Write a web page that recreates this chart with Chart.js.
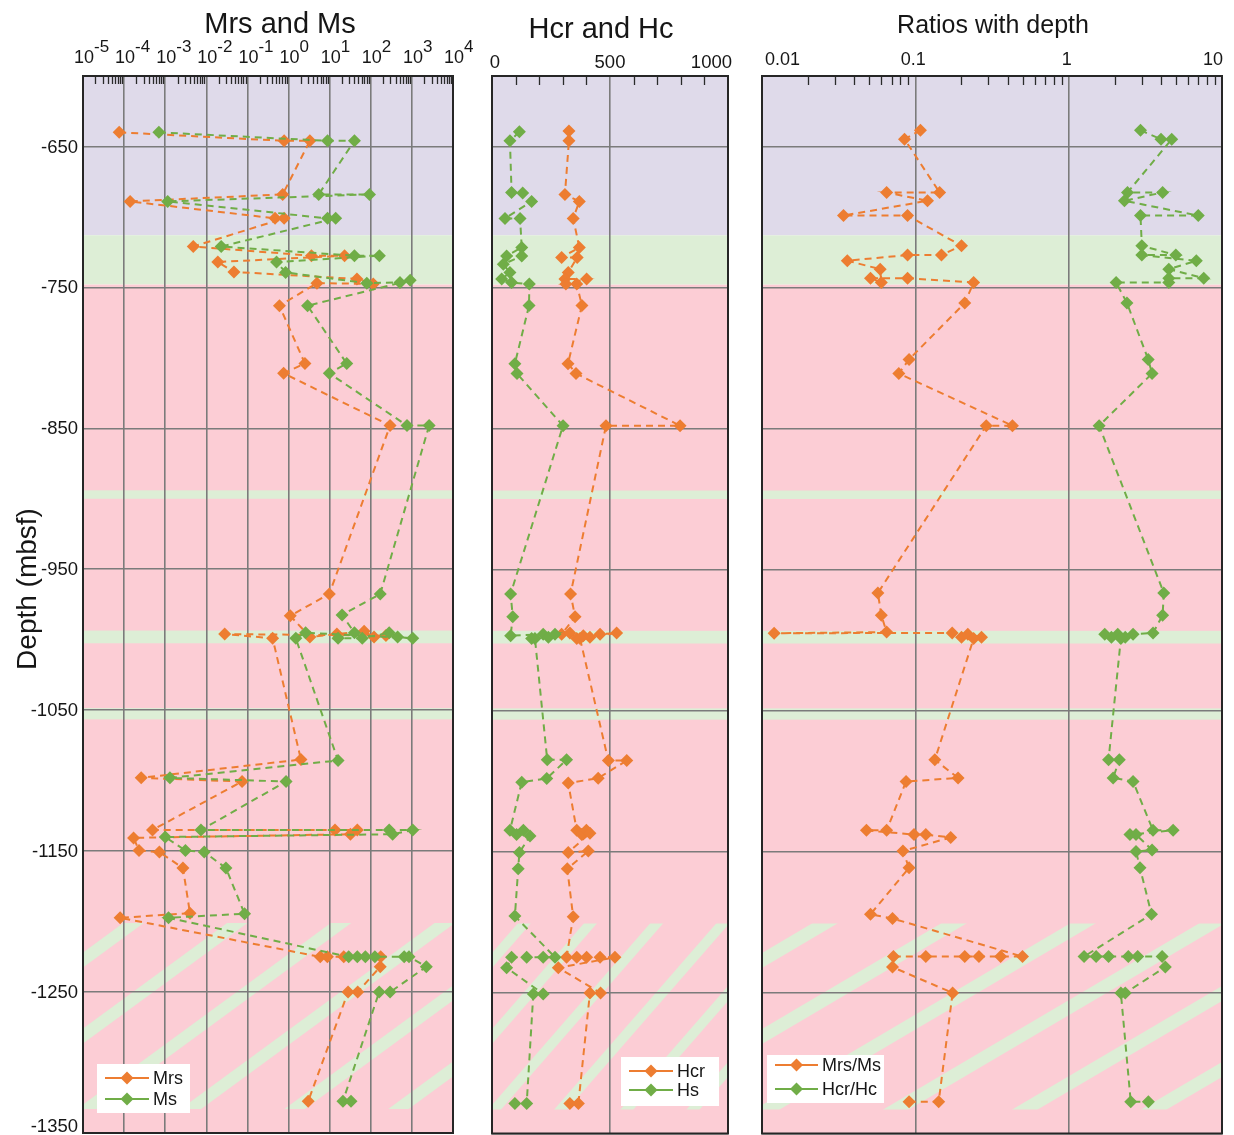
<!DOCTYPE html>
<html>
<head>
<meta charset="utf-8">
<title>Magnetic properties with depth</title>
<script src="https://cdn.jsdelivr.net/npm/chart.js@4.4.1/dist/chart.umd.min.js"></script>
<style>
  html, body { margin: 0; padding: 0; background: #ffffff; }
  #wrap { position: relative; width: 1234px; height: 1135px; overflow: hidden; }
  #wrap canvas { position: absolute; top: 0; }
</style>
</head>
<body>
<div id="wrap">
  <canvas id="pMag" width="480" height="1150" style="left:0px"></canvas>
  <canvas id="pCoer" width="270" height="1140" style="left:470px"></canvas>
  <canvas id="pRatio" width="494" height="1140" style="left:740px"></canvas>
</div>
<script>
// ---------- depth axis ----------
const depthTicks = [-650, -750, -850, -950, -1050, -1150, -1250, -1350];

// ---------- panel 1: Mrs and Ms ----------
const magExponents = [-5, -4, -3, -2, -1, 0, 1, 2, 3, 4];
const mrsDepth = [-640, -646, -646, -684, -689, -701, -701, -721, -727.5, -727.5, -732, -739, -744, -747.5, -747,
  -763, -804, -811, -848, -967.5, -983, -998, -996, -994, -998, -997, -996, -999,
  -1085, -1098, -1100.6, -1135, -1135, -1135, -1138, -1140.6, -1149.5, -1150.7, -1162, -1194, -1197.3,
  -1225, -1225, -1225, -1225, -1232, -1250, -1250, -1327.5];
const mrsValue = [7.6e-5, 0.78, 3.3, 0.72, 1.4e-4, 0.47, 0.78, 0.0048, 3.6, 23, 0.019, 0.047, 46, 115, 4.9,
  0.6, 2.5, 0.76, 295, 9.8, 1.1, 3.3, 15, 69, 120, 234, 0.028, 0.41,
  2.0, 2.6e-4, 0.074, 4.9e-4, 13.5, 47, 32, 1.7e-4, 2.3e-4, 7.2e-4, 0.0027, 0.004, 8e-5,
  5.9, 8.8, 22, 174, 170, 48, 28, 3.0];
const msDepth = [-640, -646, -646, -684, -684, -689, -701, -701, -721, -727.5, -727.5, -732, -739.4, -747, -746.5, -745,
  -763, -804, -811, -848, -848, -967.5, -982.4, -995, -999, -999, -995, -998, -999, -995, -999,
  -1085.7, -1098, -1100.6, -1135, -1135, -1135, -1138, -1140, -1149.5, -1150.7, -1162, -1194.4, -1197.3,
  -1225, -1225, -1225, -1225, -1225, -1225, -1232, -1250, -1250, -1327.5, -1327.5];
const msValue = [7e-4, 8.9, 40, 5.4, 93, 1.15e-3, 8.9, 14, 0.023, 40, 162, 0.51, 0.85, 80, 513, 910,
  2.9, 26, 9.8, 760, 2630, 170, 20, 40, 16, 62, 280, 450, 1050, 2.6, 1.5,
  16, 1.3e-3, 0.87, 0.0074, 280, 1050, 340, 0.001, 0.0031, 0.0089, 0.03, 0.085, 1.2e-3,
  29, 47, 74, 126, 650, 850, 2240, 295, 160, 21, 33];

// ---------- panel 2: Hcr and Hc ----------
const coerTicks = [0, 500, 1000];
const hcrDepth = [-639, -646, -684, -689, -701, -721.6, -728.7, -728.7, -739.4, -744, -744, -747.6, -747.6,
  -762.8, -804, -811, -848, -848, -967.3, -983.5, -996, -995, -999, -997, -998, -996, -995, -999,
  -1085.5, -1085.5, -1098, -1101.5, -1135, -1138, -1135, -1137, -1150.7, -1149.7, -1162.3, -1196.3,
  -1225, -1225, -1225, -1225, -1225, -1232.5, -1250.3, -1250.3, -1328.7, -1328.7];
const hcrValue = [326, 326, 309, 370, 344, 370, 295, 361, 323, 309, 401, 313, 359,
  381, 322, 356, 797, 483, 333, 352, 295, 330, 359, 387, 415, 458, 528, 373,
  493, 571, 450, 323, 359, 380, 400, 415, 323, 408, 319, 344,
  316, 359, 401, 458, 521, 281, 460, 415, 366, 330];
const hsDepth = [-639.6, -646, -682.6, -683, -689, -701, -701, -721.6, -727.7, -727.7, -733.5, -739.4, -744, -746.5, -747.6,
  -762.8, -804, -811, -848, -967.3, -983.5, -996.9, -996, -998, -996, -999, -999,
  -1085, -1085, -1098.2, -1100.8, -1135, -1138, -1135, -1139, -1150.7, -1162.3, -1195.8,
  -1225, -1225, -1225, -1225, -1232.5, -1251, -1251, -1328.7, -1328.7];
const hsValue = [116, 76, 83, 130, 168, 55, 119, 126, 62, 126, 48, 76, 41, 83, 158,
  157, 97, 106, 301, 79, 88, 79, 217, 239, 267, 168, 182,
  234, 316, 232, 126, 76, 104, 133, 161, 116, 111, 97,
  267, 217, 147, 83, 62, 217, 175, 147, 97];

// ---------- panel 3: ratios ----------
const ratioTicks = [0.01, 0.1, 1, 10];
const ratioTickLabels = ['0.01', '0.1', '1', '10'];
const mrsMsDepth = [-638.5, -644.8, -682.6, -682.6, -688.5, -699, -699, -720.4, -727, -727, -731, -737, -746.5, -743.4, -743.4, -746.5,
  -761, -801, -811, -848, -848, -966.6, -982.5, -994.4, -995.2, -995, -998, -998, -996, -999,
  -1085, -1097.8, -1100.4, -1135, -1135, -1138, -1138, -1140, -1149.7, -1161.6, -1194.5, -1197.5,
  -1224.5, -1224.5, -1224.5, -1224.5, -1224.5, -1224.5, -1232, -1250.3, -1327.5, -1327.5];
const mrsMsRatio = [0.108, 0.085, 0.144, 0.065, 0.12, 0.034, 0.089, 0.2, 0.148, 0.089, 0.036, 0.059, 0.06, 0.051, 0.089, 0.24,
  0.21, 0.091, 0.078, 0.43, 0.29, 0.057, 0.06, 0.065, 0.012, 0.174, 0.2, 0.27, 0.22, 0.24,
  0.134, 0.19, 0.087, 0.065, 0.048, 0.098, 0.117, 0.17, 0.083, 0.091, 0.051, 0.071,
  0.50, 0.36, 0.26, 0.21, 0.117, 0.072, 0.071, 0.175, 0.142, 0.091];
const hcrHcDepth = [-638.5, -644.8, -644.8, -682.6, -682.6, -688.5, -699, -699, -720.4, -727, -727, -731, -737, -743.4, -743.4, -746.5, -746.5,
  -761, -801, -811, -848, -966.6, -982.5, -995, -996, -998, -996, -998, -996, -999,
  -1085, -1085, -1097.8, -1100.4, -1135, -1135, -1138, -1138, -1149, -1150, -1161.6, -1194.5,
  -1224.5, -1224.5, -1224.5, -1224.5, -1224.5, -1224.5, -1232, -1250.3, -1250.3, -1327.5, -1327.5];
const hcrHcRatio = [2.94, 4.0, 4.7, 2.42, 4.1, 2.31, 7.0, 2.94, 3.0, 5.0, 3.0, 6.8, 4.5, 7.6, 4.5, 4.5, 2.04,
  2.4, 3.3, 3.5, 1.58, 4.17, 4.1, 3.55, 2.63, 2.34, 2.09, 1.9, 1.72, 2.19,
  1.82, 2.14, 1.95, 2.63, 3.55, 4.8, 2.51, 2.75, 3.5, 2.75, 2.92, 3.47,
  1.26, 1.51, 1.82, 2.45, 2.82, 4.07, 4.27, 2.34, 2.19, 2.54, 3.31];

// ---------- lithology background (depth intervals) ----------
const zoneBands = [
  { from: -600, to: -713, kind: 'upper' },
  { from: -713, to: -748, kind: 'green' },
  { from: -748, to: -1350, kind: 'pink' },
  { from: -894, to: -900, kind: 'green' },
  { from: -993.5, to: -1002.5, kind: 'green' },
  { from: -1048.5, to: -1056.5, kind: 'green' }
];
const hatchZone = { from: -1201, to: -1333 };

// ---------- styling ----------
const FONT = '"Liberation Sans", Arial, Helvetica, sans-serif';
const TEXT = '#161616';
const ORANGE = '#ED7D31';
const GREEN = '#70AD47';
const GRID = '#7b7b7b';
const ZONE_COLORS = { upper: '#dfdaea', green: '#ddeed6', pink: '#fccdd5' };

function pairs(depths, values) {
  return depths.map((d, i) => ({ x: values[i], y: d }));
}

function series(label, color, depths, values) {
  return {
    label,
    data: pairs(depths, values),
    showLine: true,
    borderColor: color,
    backgroundColor: color,
    borderWidth: 2,
    borderDash: [7, 5],
    pointStyle: 'rectRot',
    pointRadius: 6.5,
    pointHoverRadius: 6.5,
    pointBackgroundColor: color,
    pointBorderColor: color,
    pointBorderWidth: 0,
    tension: 0,
    fill: false
  };
}

function depthScale(withRoom) {
  return {
    type: 'linear',
    min: -1350,
    max: -600,
    afterBuildTicks: s => { s.ticks = depthTicks.map(v => ({ value: v })); },
    afterFit: s => { s.width = withRoom ? 83 : 0; },
    grid: { color: GRID, lineWidth: 1.6, drawTicks: false },
    border: { display: false },
    ticks: { display: false }
  };
}

function topScale(type, min, max, majors) {
  return {
    type,
    position: 'top',
    min,
    max,
    afterBuildTicks: s => { s.ticks = majors.map(v => ({ value: v })); },
    afterFit: s => { s.height = 76; },
    grid: { color: GRID, lineWidth: 1.6, drawTicks: false },
    border: { display: false },
    ticks: { display: false }
  };
}

// background zones, frame, inner minor ticks, titles, tick labels and legend
const decorPlugin = {
  id: 'decor',
  beforeDraw(chart) {
    const { ctx, chartArea: a, scales: { y } } = chart;
    const w = a.right - a.left;
    ctx.save();
    ctx.beginPath();
    ctx.rect(a.left, a.top, w, a.bottom - a.top);
    ctx.clip();
    for (const b of zoneBands) {
      const y1 = y.getPixelForValue(b.from);
      const y2 = y.getPixelForValue(b.to);
      ctx.fillStyle = ZONE_COLORS[b.kind];
      ctx.fillRect(a.left, y1, w, y2 - y1);
    }
    // diagonal hatch of the lowest interval
    const h1 = y.getPixelForValue(hatchZone.from);
    const h2 = y.getPixelForValue(hatchZone.to);
    ctx.beginPath();
    ctx.rect(a.left, h1, w, h2 - h1);
    ctx.clip();
    ctx.fillStyle = ZONE_COLORS.green;
    const rise = 271, gap = 76, half = 7.5;
    for (let k = -1; k < 8; k++) {
      const c = h1 + 37 + gap * k;
      ctx.beginPath();
      ctx.moveTo(a.left, c - half);
      ctx.lineTo(a.right, c - rise - half);
      ctx.lineTo(a.right, c - rise + half);
      ctx.lineTo(a.left, c + half);
      ctx.closePath();
      ctx.fill();
    }
    ctx.restore();
  },
  beforeDatasetsDraw(chart, args, opts) {
    const { ctx, chartArea: a, scales: { x } } = chart;
    ctx.save();
    ctx.strokeStyle = '#2a2a2a';
    ctx.lineWidth = 1.3;
    for (const v of opts.minor || []) {
      const px = Math.round(x.getPixelForValue(v)) + 0.5;
      ctx.beginPath();
      ctx.moveTo(px, a.top);
      ctx.lineTo(px, a.top + opts.minorLen);
      ctx.stroke();
    }
    ctx.lineWidth = 2;
    ctx.strokeStyle = '#262626';
    ctx.strokeRect(a.left, a.top, a.right - a.left, a.bottom - a.top);
    ctx.restore();
  },
  afterDraw(chart, args, opts) {
    const { ctx, chartArea: a, scales: { x, y } } = chart;
    ctx.save();
    ctx.fillStyle = TEXT;
    ctx.textBaseline = 'alphabetic';
    // panel title
    ctx.font = `${opts.titleSize}px ${FONT}`;
    ctx.textAlign = 'center';
    ctx.fillText(opts.title, (a.left + a.right) / 2 + opts.titleShift, opts.titleBase);
    // value-axis labels
    opts.drawTicks(ctx, x, a);
    // depth-axis labels and title
    if (opts.depthTitle) {
      ctx.font = `18.5px ${FONT}`;
      ctx.textAlign = 'right';
      ctx.textBaseline = 'middle';
      depthTicks.forEach(v => {
        const py = Math.min(y.getPixelForValue(v) + 1, a.bottom - 6);
        ctx.fillText(String(v), a.left - 5, py);
      });
      ctx.textBaseline = 'alphabetic';
      ctx.save();
      ctx.translate(36, 589);
      ctx.rotate(-Math.PI / 2);
      ctx.font = `28px ${FONT}`;
      ctx.textAlign = 'center';
      ctx.fillText(opts.depthTitle, 0, 0);
      ctx.restore();
    }
    // legend box
    const L = opts.legend;
    const bx = a.left + L.dx, by = L.y;
    ctx.fillStyle = '#ffffff';
    ctx.fillRect(bx, by, L.w, L.h);
    chart.data.datasets.slice().reverse().forEach((ds, i) => {
      const ly = by + L.first + i * L.step;
      ctx.strokeStyle = ds.borderColor;
      ctx.lineWidth = 2;
      ctx.setLineDash([]);
      ctx.beginPath();
      ctx.moveTo(bx + 8, ly);
      ctx.lineTo(bx + 8 + L.line, ly);
      ctx.stroke();
      const cx = bx + 8 + L.line / 2;
      ctx.fillStyle = ds.borderColor;
      ctx.beginPath();
      ctx.moveTo(cx, ly - 6.5);
      ctx.lineTo(cx + 6.5, ly);
      ctx.lineTo(cx, ly + 6.5);
      ctx.lineTo(cx - 6.5, ly);
      ctx.closePath();
      ctx.fill();
      ctx.fillStyle = TEXT;
      ctx.font = `18px ${FONT}`;
      ctx.textAlign = 'left';
      ctx.textBaseline = 'middle';
      ctx.fillText(ds.label, bx + 12 + L.line, ly + 1);
      ctx.textBaseline = 'alphabetic';
    });
    ctx.restore();
  }
};

function logMinors(majors) {
  const out = [];
  for (let i = 0; i < majors.length - 1; i++) {
    for (let m = 2; m <= 9; m++) out.push(majors[i] * m);
  }
  return out;
}

function makeChart(id, cfg) {
  return new Chart(document.getElementById(id), {
    type: 'scatter',
    data: { datasets: cfg.datasets },
    plugins: [decorPlugin],
    options: {
      responsive: false,
      animation: false,
      events: [],
      layout: { padding: cfg.padding },
      scales: { x: cfg.x, y: cfg.y },
      plugins: {
        legend: { display: false },
        tooltip: { enabled: false },
        decor: cfg.decor
      }
    }
  });
}

// ---------- panel 1 ----------
const magMajors = magExponents.map(e => Math.pow(10, e));
makeChart('pMag', {
  datasets: [series('Ms', GREEN, msDepth, msValue), series('Mrs', ORANGE, mrsDepth, mrsValue)],
  padding: { left: 0, right: 27, top: 0, bottom: 17 },
  x: topScale('logarithmic', 1e-5, 1e4, magMajors),
  y: depthScale(true),
  decor: {
    title: 'Mrs and Ms', titleSize: 29, titleBase: 33, titleShift: 12,
    depthTitle: 'Depth (mbsf)',
    minor: logMinors(magMajors), minorLen: 8,
    legend: { dx: 14, y: 1064, w: 93, h: 49, first: 14, step: 21, line: 44 },
    drawTicks(ctx, x) {
      magExponents.forEach(e => {
        const px = x.getPixelForValue(Math.pow(10, e));
        ctx.font = `18px ${FONT}`;
        ctx.textAlign = 'center';
        ctx.fillText('10', px + 1, 63);
        const w = ctx.measureText('10').width;
        ctx.font = `17px ${FONT}`;
        ctx.textAlign = 'left';
        ctx.fillText(String(e), px + 1 + w / 2, 52);
      });
    }
  }
});

// ---------- panel 2 ----------
makeChart('pCoer', {
  datasets: [series('Hs', GREEN, hsDepth, hsValue), series('Hcr', ORANGE, hcrDepth, hcrValue)],
  padding: { left: 22, right: 12, top: 0, bottom: 2 },
  x: topScale('linear', 0, 1000, coerTicks),
  y: depthScale(false),
  decor: {
    title: 'Hcr and Hc', titleSize: 29, titleBase: 38, titleShift: -9,
    minor: [100, 200, 300, 400, 600, 700, 800, 900], minorLen: 9,
    legend: { dx: 129, y: 1057, w: 98, h: 49, first: 14, step: 19, line: 44 },
    drawTicks(ctx, x) {
      ctx.font = `18.5px ${FONT}`;
      coerTicks.forEach((v, i) => {
        const px = x.getPixelForValue(v);
        if (i === 0) { ctx.textAlign = 'center'; ctx.fillText(String(v), px + 3, 68); }
        else if (i === coerTicks.length - 1) { ctx.textAlign = 'right'; ctx.fillText(String(v), px + 4, 68); }
        else { ctx.textAlign = 'center'; ctx.fillText(String(v), px, 68); }
      });
    }
  }
});

// ---------- panel 3 ----------
makeChart('pRatio', {
  datasets: [series('Hcr/Hc', GREEN, hcrHcDepth, hcrHcRatio), series('Mrs/Ms', ORANGE, mrsMsDepth, mrsMsRatio)],
  padding: { left: 22, right: 12, top: 0, bottom: 2 },
  x: topScale('logarithmic', 0.01, 10, ratioTicks),
  y: depthScale(false),
  decor: {
    title: 'Ratios with depth', titleSize: 25, titleBase: 33, titleShift: 1,
    minor: logMinors(ratioTicks), minorLen: 9,
    legend: { dx: 5, y: 1055, w: 117, h: 48, first: 10, step: 24, line: 43 },
    drawTicks(ctx, x) {
      ctx.font = `18px ${FONT}`;
      ratioTicks.forEach((v, i) => {
        const px = x.getPixelForValue(v);
        if (i === 0) { ctx.textAlign = 'left'; ctx.fillText(ratioTickLabels[i], px + 3, 65); }
        else if (i === ratioTicks.length - 1) { ctx.textAlign = 'right'; ctx.fillText(ratioTickLabels[i], px + 1, 65); }
        else { ctx.textAlign = 'center'; ctx.fillText(ratioTickLabels[i], px - 2, 65); }
      });
    }
  }
});
</script>
</body>
</html>
